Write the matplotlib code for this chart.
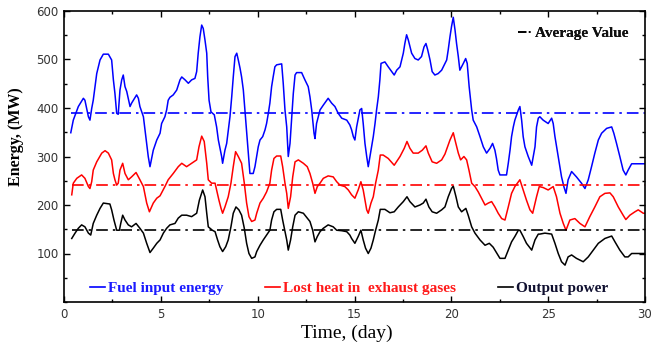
import matplotlib
matplotlib.use("Agg")
import matplotlib.pyplot as plt
from matplotlib.lines import Line2D
from matplotlib.ticker import MultipleLocator

# ---------------- data ----------------
t_fuel = [0.35, 0.48, 0.74, 1.0, 1.08, 1.26, 1.34, 1.43, 1.51, 1.6, 1.69, 1.86, 2.03, 2.29, 2.46, 2.55, 2.63, 2.72, 2.8,
          2.89, 2.98, 3.06, 3.15, 3.24, 3.41, 3.49, 3.58, 3.75, 3.84, 3.92, 4.1, 4.27, 4.35, 4.44, 4.61, 4.79, 4.96,
          5.04, 5.21, 5.3, 5.38, 5.47, 5.64, 5.82, 5.99, 6.08, 6.25, 6.42, 6.59, 6.76, 6.85, 6.93, 7.02, 7.11, 7.19,
          7.28, 7.37, 7.42, 7.49, 7.59, 7.76, 7.88, 7.97, 8.14, 8.19, 8.31, 8.4, 8.57, 8.66, 8.74, 8.83, 8.92, 9.0,
          9.09, 9.17, 9.26, 9.34, 9.43, 9.51, 9.6, 9.77, 9.86, 9.95, 10.03, 10.12, 10.26, 10.38, 10.46, 10.55, 10.63,
          10.72, 10.8, 10.89, 10.98, 11.24, 11.32, 11.41, 11.5, 11.58, 11.67, 11.75, 11.84, 11.93, 12.01, 12.27,
          12.44, 12.61, 12.7, 12.79, 12.91, 12.96, 13.04, 13.13, 13.22, 13.39, 13.64, 13.82, 13.99, 14.16, 14.34,
          14.6, 14.76, 14.85, 14.94, 15.02, 15.11, 15.28, 15.37, 15.45, 15.54, 15.63, 15.71, 15.8, 15.88, 15.97,
          16.06, 16.14, 16.23, 16.31, 16.37, 16.57, 16.74, 16.92, 17.05, 17.18, 17.35, 17.52, 17.6, 17.69, 17.78,
          17.95, 18.12, 18.29, 18.46, 18.59, 18.69, 18.78, 18.9, 19.01, 19.15, 19.32, 19.5, 19.67, 19.76, 19.84,
          19.93, 20.01, 20.1, 20.19, 20.27, 20.36, 20.44, 20.53, 20.62, 20.74, 20.82, 20.92, 21.05, 21.13, 21.31,
          21.48, 21.65, 21.82, 22.0, 22.13, 22.25, 22.33, 22.42, 22.51, 22.85, 22.94, 23.03, 23.11, 23.2, 23.28,
          23.46, 23.54, 23.63, 23.71, 23.8, 23.97, 24.15, 24.32, 24.4, 24.49, 24.57, 24.74, 25.0, 25.18, 25.26,
          25.35, 25.52, 25.69, 25.81, 25.92, 26.03, 26.21, 26.46, 26.72, 26.9, 27.07, 27.24, 27.41, 27.59, 27.76,
          28.02, 28.28, 28.39, 28.53, 28.7, 28.87, 29.01, 29.13, 29.31, 30.0]
fuel = [349, 375, 403, 420, 416, 382, 375, 399, 416, 444, 471, 499, 511, 511, 499, 458, 430, 389, 387,
        437, 458, 468, 444, 434, 403, 410, 416, 427, 420, 403, 382, 327, 300, 279, 313, 334, 348,
        368, 382, 396, 416, 422, 427, 437, 458, 464, 458, 451, 458, 461, 475, 513, 547, 571, 564,
        540, 513, 464, 416, 392, 386, 361, 334, 300, 286, 313, 327, 382, 423, 464, 506, 513, 499,
        482, 464, 437, 396, 348, 307, 265, 265, 279, 300, 320, 334, 341, 355, 368, 389, 410,
        444, 464, 485, 489, 491, 451, 396, 361, 300, 327, 375, 430, 468, 473, 473,
        458, 444, 423, 396, 348, 337, 368, 382, 396, 406, 420, 410, 403, 389, 379,
        375, 365, 355, 341, 334, 361, 396, 399, 368, 327, 300, 279, 300, 320, 341,
        368, 396, 423, 458, 492, 495, 485, 475, 468, 478, 485, 513, 533, 551, 540,
        513, 502, 499, 506, 526, 533, 520, 499, 475, 468, 471, 478, 492, 499, 520,
        547, 568, 587, 561, 533, 506, 478, 485, 492, 502, 492, 444, 396, 375, 361,
        341, 320, 307, 317, 327, 313, 296, 272, 262, 262, 286, 313, 341, 361, 375,
        396, 403, 375, 341, 320, 300, 282, 320, 361, 379, 382, 375, 368, 379, 368,
        341, 300, 258, 238, 224, 252, 269, 258, 245, 234, 252, 279, 307, 334, 348,
        358, 361, 348, 327, 300, 272, 262, 272, 285, 285]

t_heat = [0.4, 0.48, 0.66, 0.91, 1.08, 1.26, 1.34, 1.43, 1.51, 1.69, 1.95, 2.12, 2.29, 2.46, 2.55, 2.63, 2.72, 2.8,
          2.89, 3.03, 3.15, 3.32, 3.49, 3.72, 3.92, 4.1, 4.27, 4.41, 4.61, 4.79, 4.96, 5.21, 5.38, 5.64, 5.9, 6.08,
          6.33, 6.59, 6.85, 6.97, 7.11, 7.24, 7.37, 7.45, 7.62, 7.8, 7.88, 8.0, 8.11, 8.19, 8.31, 8.48, 8.62, 8.74,
          8.86, 9.0, 9.17, 9.31, 9.43, 9.55, 9.69, 9.86, 9.95, 10.12, 10.29, 10.46, 10.63, 10.72, 10.84, 10.98,
          11.19, 11.29, 11.41, 11.5, 11.58, 11.7, 11.81, 11.93, 12.1, 12.36, 12.56, 12.7, 12.84, 12.96, 13.08,
          13.22, 13.39, 13.64, 13.9, 14.08, 14.25, 14.5, 14.68, 14.85, 15.02, 15.19, 15.33, 15.45, 15.54, 15.63,
          15.71, 15.85, 15.97, 16.09, 16.23, 16.33, 16.48, 16.74, 17.05, 17.35, 17.57, 17.71, 17.86, 18.03, 18.29,
          18.5, 18.69, 18.81, 19.01, 19.24, 19.5, 19.67, 19.93, 20.1, 20.19, 20.36, 20.48, 20.65, 20.79, 20.91,
          21.05, 21.22, 21.39, 21.56, 21.74, 21.91, 22.08, 22.25, 22.42, 22.6, 22.77, 22.94, 23.11, 23.28, 23.54,
          23.71, 23.88, 24.06, 24.2, 24.4, 24.54, 24.74, 25.0, 25.26, 25.43, 25.61, 25.78, 25.92, 26.12, 26.38,
          26.64, 26.9, 27.15, 27.41, 27.67, 27.93, 28.19, 28.36, 28.62, 28.87, 29.01, 29.22, 29.48, 29.65, 29.91,
          30.0]
heat = [221, 245, 255, 262, 255, 238, 234, 248, 272, 289, 307, 312, 307, 293, 265, 252, 241, 245,
        272, 286, 265, 252, 258, 267, 252, 238, 204, 186, 204, 214, 219, 238, 252, 265, 279, 286,
        279, 286, 293, 320, 342, 331, 286, 252, 245, 245, 231, 210, 193, 183, 196, 217, 245, 279,
        310, 300, 286, 245, 204, 176, 166, 169, 183, 204, 214, 227, 245, 272, 296, 301,
        301, 279, 245, 224, 193, 217, 258, 289, 293, 286, 279, 265, 245, 224, 238,
        245, 255, 260, 258, 248, 241, 238, 231, 221, 214, 231, 248, 231, 210, 190,
        183, 204, 217, 245, 272, 303, 303, 296, 282, 300, 317, 331, 317, 307, 307,
        313, 322, 307, 289, 286, 293, 305, 334, 349, 334, 307, 293, 300, 293, 272,
        245, 238, 227, 214, 200, 204, 207, 196, 183, 172, 169, 196, 224, 238, 252,
        231, 210, 190, 183, 217, 238, 236, 231, 238, 217, 183, 162, 148, 169, 172,
        162, 155, 176, 196, 217, 224, 225, 217, 196, 179, 170, 179, 186, 190, 183,
        183]

t_out = [0.4, 0.57, 0.74, 0.91, 1.08, 1.26, 1.38, 1.51, 1.69, 1.86, 2.03, 2.37, 2.46, 2.58, 2.72, 2.86, 2.93, 3.03,
         3.15, 3.32, 3.49, 3.72, 3.92, 4.1, 4.27, 4.44, 4.61, 4.79, 4.96, 5.13, 5.3, 5.47, 5.73, 5.9, 6.08, 6.33,
         6.59, 6.85, 6.99, 7.16, 7.28, 7.37, 7.45, 7.66, 7.8, 7.93, 8.05, 8.19, 8.35, 8.48, 8.62, 8.74, 8.88, 9.03,
         9.17, 9.31, 9.43, 9.55, 9.69, 9.86, 9.95, 10.12, 10.29, 10.46, 10.63, 10.72, 10.84, 10.98, 11.19, 11.29,
         11.41, 11.5, 11.58, 11.7, 11.81, 11.93, 12.1, 12.36, 12.56, 12.7, 12.84, 12.96, 13.08, 13.22, 13.39,
         13.64, 13.9, 14.08, 14.34, 14.6, 14.76, 14.85, 15.02, 15.19, 15.33, 15.45, 15.57, 15.71, 15.85, 15.97,
         16.09, 16.23, 16.33, 16.57, 16.83, 17.05, 17.26, 17.52, 17.71, 17.86, 18.12, 18.38, 18.55, 18.69, 18.84,
         19.01, 19.24, 19.5, 19.67, 19.84, 20.01, 20.1, 20.24, 20.36, 20.53, 20.75, 20.87, 21.05, 21.22, 21.48,
         21.74, 21.96, 22.16, 22.33, 22.51, 22.77, 22.94, 23.11, 23.28, 23.46, 23.54, 23.71, 23.88, 24.15, 24.32,
         24.49, 24.57, 24.83, 25.18, 25.35, 25.52, 25.69, 25.87, 26.03, 26.21, 26.46, 26.81, 27.07, 27.33, 27.59,
         27.93, 28.28, 28.45, 28.7, 28.96, 29.13, 29.31, 30.0]
out = [131, 142, 152, 159, 155, 142, 138, 162, 179, 193, 204, 202, 190, 169, 148, 148, 162, 179,
       169, 159, 155, 162, 152, 142, 121, 102, 111, 121, 128, 142, 152, 159, 162, 173, 179, 179,
       176, 183, 210, 231, 217, 183, 155, 148, 145, 128, 114, 104, 114, 128, 155, 183, 196, 190,
       179, 152, 121, 100, 90, 93, 104, 117, 128, 138, 148, 169, 186, 191, 191, 169,
       145, 128, 107, 128, 155, 179, 186, 183, 173, 166, 148, 124, 135, 145, 152,
       159, 155, 148, 147, 145, 138, 131, 121, 135, 148, 128, 111, 100, 111, 128,
       148, 169, 191, 191, 184, 186, 196, 207, 217, 207, 196, 200, 204, 212, 196,
       186, 183, 190, 196, 217, 234, 239, 217, 196, 186, 193, 179, 155, 142, 128,
       117, 121, 113, 102, 90, 90, 107, 124, 135, 148, 148, 135, 121, 107, 128,
       140, 140, 142, 140, 121, 100, 83, 76, 93, 97, 90, 83, 93, 107, 121,
       131, 136, 124, 107, 93, 93, 100, 100]

avg_fuel, avg_heat, avg_out = 389, 241, 148

labels = ["Fuel input energy", "Lost heat in  exhaust gases", "Output power", "Average Value"]

# ---------------- figure ----------------
W, H = 651, 349
fig = plt.figure(figsize=(W / 100, H / 100), dpi=100)
ax = fig.add_axes([64 / W, 1 - 302 / H, (645 - 64) / W, (302 - 11) / H])

ax.plot(t_fuel, fuel, color="#0000ff", lw=1.1)
ax.plot(t_heat, heat, color="#ff0000", lw=1.1)
ax.plot(t_out, out, color="#000000", lw=1.1)

dashdot = (0, (7, 3, 1.5, 3))
ax.hlines(avg_fuel, t_fuel[0], 30, colors="#0000ff", linestyles=dashdot, lw=1.2)
ax.hlines(avg_heat, t_heat[0], 30, colors="#ff0000", linestyles=dashdot, lw=1.2)
ax.hlines(avg_out, t_out[0], 30, colors="#000000", linestyles=dashdot, lw=1.2)

ax.set_xlim(0, 30)
ax.set_ylim(0, 600)
ax.xaxis.set_major_locator(MultipleLocator(5))
ax.xaxis.set_minor_locator(MultipleLocator(2.5))
ax.yaxis.set_minor_locator(MultipleLocator(50))
ax.set_yticks([100, 200, 300, 400, 500, 600])
ax.tick_params(which="both", direction="in", top=True, right=True, color="black")
ax.tick_params(which="major", length=4, width=1)
ax.tick_params(which="minor", length=2.5, width=1)
ax.tick_params(labelsize=8.5, labelcolor="#333333", pad=4)
for s in ax.spines.values():
    s.set_linewidth(1.2)
    s.set_color("black")

serif = ["Liberation Serif", "DejaVu Serif"]
ax.set_xlabel("Time, (day)", fontsize=14, family=serif)
ax.xaxis.set_label_coords(0.487, -0.078)
ax.set_ylabel("Energy, (MW)", fontsize=11.5, family=serif, fontweight="bold")
ax.yaxis.set_label_coords(-0.068, 0.567)

fp = dict(family=serif, weight="bold", size=11)

def add_leg(color, label, anchor, textcolor, ls="-"):
    h = Line2D([], [], color=color, lw=1.2, linestyle=ls)
    lg = ax.legend([h], [label], loc="center left", bbox_to_anchor=anchor, frameon=False,
                   borderpad=0, borderaxespad=0, handlelength=1.0, handletextpad=0.15, prop=fp)
    lg.get_texts()[0].set_color(textcolor)
    ax.add_artist(lg)

add_leg("#0000ff", labels[0], (0.045, 0.048), "#1a1aff")
add_leg("#ff0000", labels[1], (0.346, 0.048), "#ff1a1a")
add_leg("#000000", labels[2], (0.747, 0.048), "#101030")
add_leg("#000000", labels[3], (0.781, 0.924), "#101010", ls=(0, (5, 1.5, 1, 1.5)))

fig.savefig("out.png", dpi=100)
